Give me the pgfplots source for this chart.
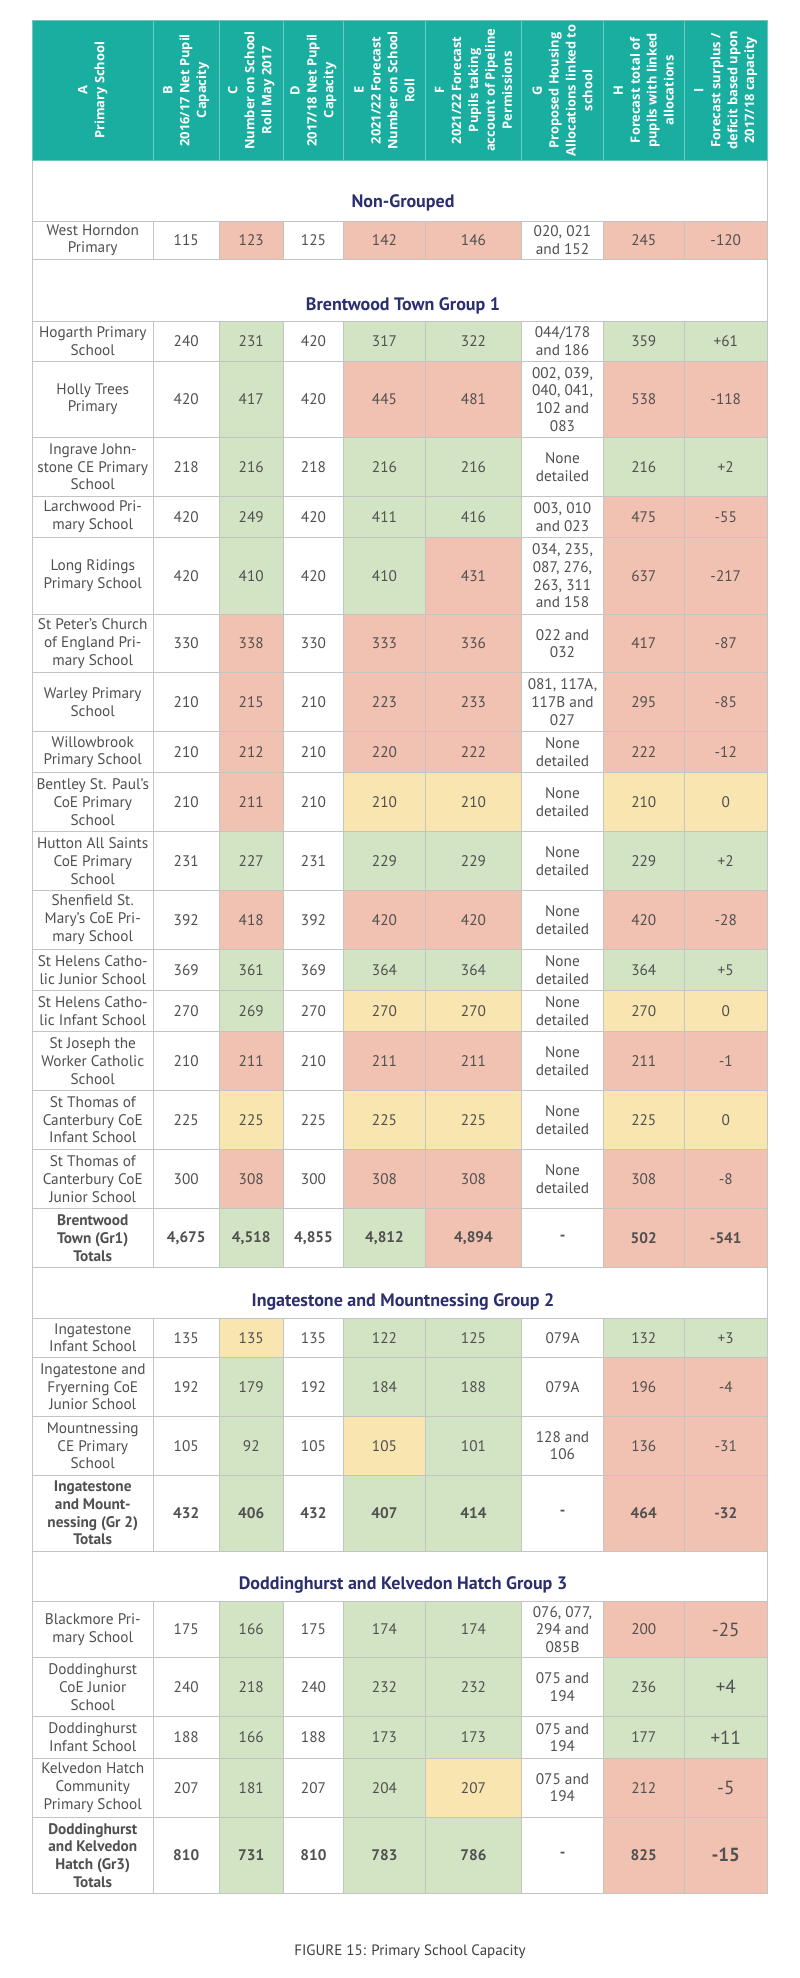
\documentclass[border=0pt]{standalone}
\usepackage{pgfplots}
\pgfplotsset{compat=1.18}
\usepackage{pgfplotstable}
\usepackage{fontspec}
\setmainfont{PT Sans}
\newfontfamily\headfont{Open Sans}
\definecolor{cr}{HTML}{F1C2B1}
\definecolor{cg}{HTML}{D3E4C5}
\definecolor{cy}{HTML}{F9E5B0}
\definecolor{teal}{HTML}{1AAEA0}
\definecolor{tealline}{HTML}{6CC9BE}
\definecolor{gridc}{HTML}{C4C4C4}
\definecolor{band}{HTML}{E6E6E6}
\definecolor{txt}{HTML}{505050}
\definecolor{navy}{HTML}{2B2F6E}
\definecolor{navyline}{HTML}{5F6294}
\definecolor{captc}{HTML}{3F3F3F}
\protected\def\nl{\\}
\protected\def\tb#1{{\bfseries #1}}
\protected\def\bn#1{{\fontsize{19}{21}\selectfont #1}}
\pgfdeclareplotmark{cell}{%
  \pgfpathrectangle{\pgfpoint{-0.5*\cellw pt}{-0.5*\cellh pt}}{\pgfpoint{\cellw pt}{\cellh pt}}%
  \pgfusepathqfillstroke}

% frame: page background and table outline
\pgfplotstableread[col sep=semicolon]{
x;y;w;h;k
400;989;800;1978;bg
399.75;1027;735.5;1732.6;w
}\frametab

% header cells
\pgfplotstableread[col sep=semicolon]{
x;y;w;h;k;lab
92.75;90.35;121.5;140.7;t;A\nl Primary School
186.25;90.35;65.5;140.7;t;B\nl 2016/17 Net Pupil\nl Capacity
251.25;90.35;64.5;140.7;t;C\nl Number on School\nl Roll May 2017
313.5;90.35;60;140.7;t;D\nl 2017/18 Net Pupil\nl Capacity
384.5;90.35;82;140.7;t;E\nl 2021/22 Forecast\nl Number on School\nl Roll
473.5;90.35;96;140.7;t;F\nl 2021/22 Forecast\nl Pupils taking\nl account of Pipeline\nl Permissions
562.5;90.35;82;140.7;t;G\nl Proposed Housing\nl Allocations linked to\nl school
643.75;90.35;80.5;140.7;t;H\nl Forecast total of\nl pupils with linked\nl allocations
725.75;90.35;83.5;140.7;t;I\nl Forecast surplus /\nl deficit based upon\nl 2017/18 capacity
}\headtab

% group titles
\pgfplotstableread[col sep=semicolon]{
x;y;lab
403;203;Non-Grouped
403;305.5;Brentwood Town Group 1
403;1302;Ingatestone and Mountnessing Group 2
403;1585;Doddinghurst and Kelvedon Hatch Group 3
}\titletab

\pgfplotstableread[col sep=semicolon]{
x;y;lab
410;1952;FIGURE 15: Primary School Capacity
}\captab

% light separator bands between some rows
\pgfplotstableread{
x y
32 362.2
767.5 362.2
nan nan
32 615.5
767.5 615.5
nan nan
32 673.9
767.5 673.9
nan nan
32 773.9
767.5 773.9
nan nan
32 991.9
767.5 991.9
nan nan
32 1032.9
767.5 1032.9
nan nan
32 1091.5
767.5 1091.5
nan nan
32 1150.5
767.5 1150.5
nan nan
32 1358.5
767.5 1358.5
nan nan
32 1476.2
767.5 1476.2
nan nan
32 1658.5
767.5 1658.5
nan nan
32 1717.9
767.5 1717.9
nan nan
32 1759.5
767.5 1759.5
nan nan
32 1818.2
767.5 1818.2
}\bandtab

% body rows
\pgfplotstableread[col sep=semicolon]{
y;h;A;B;C;D;E;F;G;H;I;kC;kE;kF;kH;kI;W
240.2;38.3;West Horndon\nl Primary;115;123;125;142;146;020, 021\nl and 152;245;-120;r;r;r;r;r;w
341.3;39.3;Hogarth Primary\nl School;240;231;420;317;322;044/178\nl and 186;359;+61;g;g;g;g;g;w
399.2;76.3;Holly Trees\nl Primary;420;417;420;445;481;002, 039,\nl 040, 041,\nl 102 and\nl 083;538;-118;g;r;r;r;r;w
466.8;59;Ingrave John-\nl stone CE Primary\nl School;218;216;218;216;216;None\nl detailed;216;+2;g;g;g;g;g;w
516.8;41;Larchwood Pri-\nl mary School;420;249;420;411;416;003, 010\nl and 023;475;-55;g;g;g;r;r;w
575.8;77;Long Ridings\nl Primary School;420;410;420;410;431;034, 235,\nl 087, 276,\nl 263, 311\nl and 158;637;-217;g;g;r;r;r;w
643.5;58.4;St Peter’s Church\nl of England Pri-\nl mary School;330;338;330;333;336;022 and\nl 032;417;-87;r;r;r;r;r;w
702;58.6;Warley Primary\nl School;210;215;210;223;233;081, 117A,\nl 117B and\nl 027;295;-85;r;r;r;r;r;w
752;41.4;Willowbrook\nl Primary School;210;212;210;220;222;None\nl detailed;222;-12;r;r;r;r;r;w
802.2;59;Bentley St. Paul’s\nl CoE Primary\nl School;210;211;210;210;210;None\nl detailed;210;0;r;y;y;y;y;w
861;58.6;Hutton All Saints\nl CoE Primary\nl School;231;227;231;229;229;None\nl detailed;229;+2;g;g;g;g;g;w
919.8;59;Shenfield St.\nl Mary’s CoE Pri-\nl mary School;392;418;392;420;420;None\nl detailed;420;-28;r;r;r;r;r;w
970;41.4;St Helens Catho-\nl lic Junior School;369;361;369;364;364;None\nl detailed;364;+5;g;g;g;g;g;w
1011.2;41;St Helens Catho-\nl lic Infant School;270;269;270;270;270;None\nl detailed;270;0;g;y;y;y;y;w
1061;58.6;St Joseph the\nl Worker Catholic\nl School;210;211;210;211;211;None\nl detailed;211;-1;r;r;r;r;r;w
1119.8;59;St Thomas of\nl Canterbury CoE\nl Infant School;225;225;225;225;225;None\nl detailed;225;0;y;y;y;y;y;w
1179;59.4;St Thomas of\nl Canterbury CoE\nl Junior School;300;308;300;308;308;None\nl detailed;308;-8;r;r;r;r;r;w
1238;58.6;\tb{Brentwood}\nl\tb{Town (Gr1)}\nl\tb{Totals};\tb{4,675};\tb{4,518};\tb{4,855};\tb{4,812};\tb{4,894};\tb{-};\tb{502};\tb{-541};g;g;r;r;r;w
1337.8;39;Ingatestone\nl Infant School;135;135;135;122;125;079A;132;+3;y;g;g;g;g;w
1386.8;59;Ingatestone and\nl Fryerning CoE\nl Junior School;192;179;192;184;188;079A;196;-4;g;g;g;r;r;w
1445.7;58.7;Mountnessing\nl CE Primary\nl School;105;92;105;105;101;128 and\nl 106;136;-31;g;y;g;r;r;w
1513;76;\tb{Ingatestone}\nl\tb{and Mount-}\nl\tb{nessing (Gr 2)}\nl\tb{Totals};\tb{432};\tb{406};\tb{432};\tb{407};\tb{414};\tb{-};\tb{464};\tb{-32};g;g;g;r;r;w
1629.5;55.6;Blackmore Pri-\nl mary School;175;166;175;174;174;076, 077,\nl 294 and\nl 085B;200;\bn{-25};g;g;g;r;r;w
1687;59.4;Doddinghurst\nl CoE Junior\nl School;240;218;240;232;232;075 and\nl 194;236;\bn{+4};g;g;g;g;g;w
1737.5;41.6;Doddinghurst\nl Infant School;188;166;188;173;173;075 and\nl 194;177;\bn{+11};g;g;g;g;g;w
1787.7;58.7;Kelvedon Hatch\nl Community\nl Primary School;207;181;207;204;207;075 and\nl 194;212;\bn{-5};g;g;y;r;r;w
1855.2;76.3;\tb{Doddinghurst}\nl\tb{and Kelvedon}\nl\tb{Hatch (Gr3)}\nl\tb{Totals};\tb{810};\tb{731};\tb{810};\tb{783};\tb{786};\tb{-};\tb{825};\tb{\bn{-15}};g;g;g;r;r;w
}\rows

\pgfplotsset{
  cellfill/.style={scatter, only marks, mark=cell,
    scatter src=explicit symbolic,
    scatter/classes={
      r={fill=cr,draw=gridc,line width=0.8pt},
      g={fill=cg,draw=gridc,line width=0.8pt},
      y={fill=cy,draw=gridc,line width=0.8pt},
      w={fill=white,draw=gridc,line width=0.8pt},
      t={fill=teal,draw=tealline,line width=0.8pt},
      bg={fill=white,draw=white,line width=0pt}},
    visualization depends on={#1 \as \cellw},
    visualization depends on={\thisrow{h} \as \cellh}},
  celltext/.style={only marks, mark=none, nodes near coords={\pgfplotspointmeta},
    point meta=explicit symbolic,
    every node near coord/.append style={anchor=center, align=center, inner sep=0pt,
      font=\fontsize{15.3}{17.7}\selectfont, text=txt}},
}

\begin{document}
\begin{tikzpicture}
\begin{axis}[hide axis, x=1pt, y=1pt, xmin=0, xmax=800, ymin=0, ymax=1978,
  y dir=reverse, clip=false, enlargelimits=false, unbounded coords=jump]
% frame and header
\addplot[cellfill=\thisrow{w}] table[x=x, y=y, meta=k] \frametab;
\addplot[cellfill=\thisrow{w}] table[x=x, y=y, meta=k] \headtab;
\addplot[celltext, every node near coord/.append style={rotate=90, text=white,
   font=\headfont\bfseries\fontsize{12.9}{16.9}\selectfont}] table[x=x, y=y, meta=lab] \headtab;
% body cell fills
\addplot[cellfill=121.5] table[x expr=92.75, y=y, meta=W] \rows;
\addplot[cellfill=65.5] table[x expr=186.25, y=y, meta=W] \rows;
\addplot[cellfill=64.5] table[x expr=251.25, y=y, meta=kC] \rows;
\addplot[cellfill=60] table[x expr=313.5, y=y, meta=W] \rows;
\addplot[cellfill=82] table[x expr=384.5, y=y, meta=kE] \rows;
\addplot[cellfill=96] table[x expr=473.5, y=y, meta=kF] \rows;
\addplot[cellfill=82] table[x expr=562.5, y=y, meta=W] \rows;
\addplot[cellfill=80.5] table[x expr=643.75, y=y, meta=kH] \rows;
\addplot[cellfill=83.5] table[x expr=725.75, y=y, meta=kI] \rows;
% light separator bands
\addplot[band, line width=2pt, mark=none, opacity=0.8] table[x=x, y=y] \bandtab;
% body texts
\addplot[celltext] table[x expr=92.75, y=y, meta=A] \rows;
\addplot[celltext] table[x expr=186.25, y=y, meta=B] \rows;
\addplot[celltext] table[x expr=251.25, y=y, meta=C] \rows;
\addplot[celltext] table[x expr=313.5, y=y, meta=D] \rows;
\addplot[celltext] table[x expr=384.5, y=y, meta=E] \rows;
\addplot[celltext] table[x expr=473.5, y=y, meta=F] \rows;
\addplot[celltext] table[x expr=562.5, y=y, meta=G] \rows;
\addplot[celltext] table[x expr=643.75, y=y, meta=H] \rows;
\addplot[celltext] table[x expr=725.75, y=y, meta=I] \rows;
% group titles and double rules
\addplot[celltext, every node near coord/.append style={text=navy,
   font=\bfseries\fontsize{18}{20}\selectfont}] table[x=x, y=y, meta=lab] \titletab;
\addplot[navyline, line width=1.1pt] coordinates {(32,216.8) (767.5,216.8)};
\addplot[navyline, line width=1.4pt] coordinates {(32,219.6) (767.5,219.6)};
\addplot[navyline, line width=1.1pt] coordinates {(32,317.6) (767.5,317.6)};
\addplot[navyline, line width=1.4pt] coordinates {(32,320.4) (767.5,320.4)};
\addplot[navyline, line width=1.1pt] coordinates {(32,1314.2) (767.5,1314.2)};
\addplot[navyline, line width=1.4pt] coordinates {(32,1317) (767.5,1317)};
\addplot[navyline, line width=1.1pt] coordinates {(32,1597.4) (767.5,1597.4)};
\addplot[navyline, line width=1.4pt] coordinates {(32,1600.2) (767.5,1600.2)};
% caption
\addplot[celltext, every node near coord/.append style={text=captc,
   font=\fontsize{15}{18}\selectfont}] table[x=x, y=y, meta=lab] \captab;
\end{axis}
\end{tikzpicture}
\end{document}
